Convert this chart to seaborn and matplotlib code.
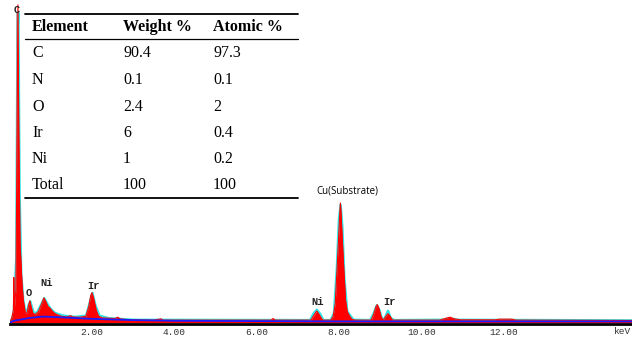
import numpy as np
import pandas as pd
import matplotlib
matplotlib.use("Agg")
import matplotlib.pyplot as plt
import seaborn as sns

# ---------------- data ----------------
energy = [0.00, 0.05, 0.09, 0.10, 0.11, 0.15, 0.18, 0.20, 0.22, 0.25, 0.30, 0.33, 0.38, 0.42,
          0.46, 0.49, 0.52, 0.56, 0.62, 0.70, 0.78, 0.83, 0.88, 0.93, 0.98, 1.02, 1.08, 1.15,
          1.25, 1.40, 1.48, 1.52, 1.70, 1.85, 1.92, 1.97, 2.00, 2.04, 2.10, 2.16, 2.25, 2.40,
          2.55, 2.63, 2.68, 2.85, 3.00, 3.50, 3.68, 3.72, 3.76, 5.00, 6.35, 6.40, 6.45, 7.20,
          7.32, 7.40, 7.46, 7.52, 7.60, 7.80, 7.86, 7.91, 7.95, 7.99, 8.02, 8.035, 8.05, 8.08,
          8.12, 8.16, 8.20, 8.26, 8.32, 8.40, 8.78, 8.84, 8.90, 8.93, 8.97, 9.02, 9.06, 9.08,
          9.14, 9.19, 9.24, 9.30, 10.45, 10.60, 10.70, 10.80, 10.95, 11.80, 11.90, 12.20,
          12.30, 15.12]
counts = [0, 15, 40, 140, 40, 100, 600, 985, 600, 250, 120, 70, 30, 30,
          55, 68, 50, 30, 25, 35, 60, 77, 65, 50, 45, 38, 30, 25,
          20, 18, 22, 18, 17, 20, 50, 85, 93, 75, 40, 20, 15, 14,
          13, 17, 12, 10, 9, 8, 12, 8, 8, 8, 8, 13, 8, 8,
          8, 25, 36, 25, 8, 8, 20, 60, 160, 260, 340, 371, 340, 260,
          160, 70, 35, 20, 10, 8, 8, 25, 50, 56, 45, 20, 10, 8,
          20, 28, 20, 8, 8, 14, 17, 12, 9, 9, 11, 11,
          8, 7]

fit_energy = [0.00, 0.05, 0.10, 0.16, 0.19, 0.21, 0.24, 0.28, 0.33, 0.38, 0.42, 0.46, 0.50,
              0.54, 0.58, 0.66, 0.76, 0.84, 0.90, 0.98, 1.10, 1.30, 1.60, 1.86, 1.93, 2.01,
              2.08, 2.18, 2.40, 3.00, 7.30, 7.38, 7.46, 7.54, 7.62, 7.80, 7.88, 7.95, 8.00,
              8.04, 8.08, 8.13, 8.20, 8.35, 8.76, 8.84, 8.92, 8.98, 9.04, 9.10, 9.19, 9.26,
              9.34, 10.5, 10.7, 10.9, 15.12]
fit_counts = [0, 10, 30, 200, 900, 960, 400, 150, 70, 35, 32, 55, 66,
              48, 32, 30, 55, 76, 62, 45, 30, 22, 18, 22, 55, 92,
              55, 22, 14, 9, 8, 28, 40, 28, 8, 8, 30, 170, 320,
              365, 300, 140, 35, 9, 8, 28, 54, 40, 14, 10, 37, 14,
              8, 9, 13, 9, 7]

bg_energy = [0.00, 0.10, 0.50, 0.80, 1.20, 2.00, 3.00, 4.00, 6.00, 8.00, 15.12]
bg_counts = [0, 6, 15, 19, 17, 12, 8, 6, 5, 4, 4]

peak_labels = ["C", "O", "Ni", "Ir", "Ni", "Ir"]
peak_x = [0.16, 0.46, 0.90, 2.03, 7.48, 9.23]
peak_y = [955, 76, 108, 98, 50, 50]

tick_values = [2, 4, 6, 8, 10, 12]
tick_labels = ["2.00", "4.00", "6.00", "8.00", "10.00", "12.00"]

tbl_header = ["Element", "Weight %", "Atomic %"]
tbl_elements = ["C", "N", "O", "Ir", "Ni", "Total"]
tbl_weight = ["90.4", "0.1", "2.4", "6", "1", "100"]
tbl_atomic = ["97.3", "0.1", "2", "0.4", "0.2", "100"]

# ---------------- figure ----------------
sns.set_style("white")
W, H = 632, 337
fig = plt.figure(figsize=(W / 100, H / 100), dpi=100)
ax = fig.add_axes([9.7 / W, 13 / H, 1 - 9.7 / W, 324 / H])
ax.set_xlim(0, 15.12)
ax.set_ylim(-4, 1000)

spec = pd.DataFrame({"energy": energy, "counts": counts})
fit = pd.DataFrame({"energy": fit_energy, "counts": fit_counts})
bg = pd.DataFrame({"energy": bg_energy, "counts": bg_counts})

sns.lineplot(data=fit, x="energy", y="counts", ax=ax, color="#2ee6e6", lw=1.8,
             sort=False, estimator=None, zorder=2)
ax.plot([0.175, 0.175], [0, 960], color="#a0a0a0", lw=1.2, zorder=2.5)
ax.fill_between(spec["energy"], 0, spec["counts"], color="#ff0000", lw=0, zorder=3)
sns.lineplot(data=spec, x="energy", y="counts", ax=ax, color="#ff0000", lw=0.8,
             sort=False, estimator=None, zorder=3)
sns.lineplot(data=bg, x="energy", y="counts", ax=ax, color="#1a1aff", lw=1.3,
             sort=False, estimator=None, zorder=4)

for lab, px, py in zip(peak_labels, peak_x, peak_y):
    ax.text(px, py, lab, ha="center", va="bottom", fontsize=7.5,
            family="Liberation Mono", fontweight="bold", color="#222222", zorder=5)

ax.annotate("Cu(Substrate)", xy=(8.2, 390), ha="center", va="bottom",
            fontsize=7, family="Open Sans", color="black", zorder=5)

for s in ["top", "right", "left"]:
    ax.spines[s].set_visible(False)
ax.spines["bottom"].set_linewidth(2.0)
ax.spines["bottom"].set_color("black")
ax.spines["bottom"].set_zorder(6)
ax.set_yticks([])
ax.set_xticks(tick_values)
ax.set_xticklabels(tick_labels, family="Liberation Mono", fontsize=6.8, color="#333333")
ax.tick_params(axis="x", direction="inout", length=4, width=1, color="black", pad=1)
ax.set_xlabel("")
ax.set_ylabel("")

# ---------------- overlay (pixel coords) ----------------
tx = fig.add_axes([0, 0, 1, 1], facecolor="none")
tx.set_xlim(0, W)
tx.set_ylim(H, 0)
tx.axis("off")
tx.text(631, 332, "keV", ha="right", va="center", family="Liberation Mono",
        fontsize=6.8, color="#333333")
tx.plot([25, 298], [14, 14], color="black", lw=1.3)
tx.plot([25, 298], [39, 39], color="black", lw=0.9)
tx.plot([25, 298], [198, 198], color="black", lw=1.3)
col_x = [32, 123, 213]
for cx, h in zip(col_x, tbl_header):
    tx.text(cx, 27, h, ha="left", va="center", family="Liberation Serif",
            fontweight="bold", fontsize=11.5, color="black")
row_y = [53, 80, 107, 133, 159, 185]
for ry, e, w_, a_ in zip(row_y, tbl_elements, tbl_weight, tbl_atomic):
    for cx, val in zip(col_x, [e, w_, a_]):
        tx.text(cx, ry, val, ha="left", va="center", family="Liberation Serif",
                fontsize=11.5, color="black")

fig.savefig("out.png", dpi=100)
